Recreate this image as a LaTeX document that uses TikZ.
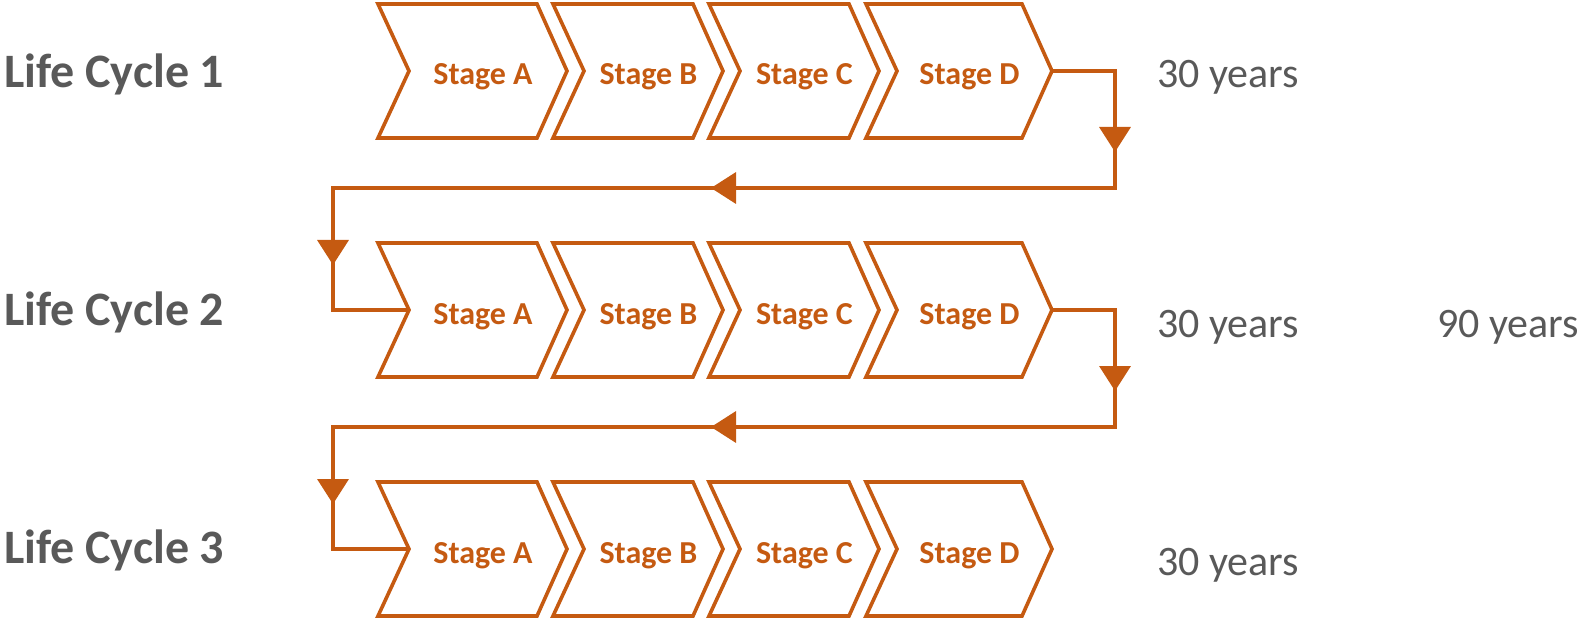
\documentclass[tikz,border=0pt]{standalone}
\usepackage{fontspec}
\setmainfont{Carlito}
\usetikzlibrary{arrows.meta,decorations.markings}
\definecolor{rust}{HTML}{C55A11}
\definecolor{greytxt}{HTML}{595959}
\tikzset{flowtip/.tip={Triangle[width=31pt,length=25pt]}}
\newcommand\mychev[5]{% name, left, right, yc, text
  \draw[chev] (#2,#4-67) -- (#3-30,#4-67) -- (#3,#4) -- (#3-30,#4+67) -- (#2,#4+67) -- (#2+31,#4) -- cycle;
  \coordinate (#1-notch) at (#2+31,#4);
  \coordinate (#1-tip) at (#3,#4);
  \node[stagetext] (#1) at ({(#2+31+#3)/2-5},#4+14) {#5};
}
\begin{document}
\begin{tikzpicture}[x=1pt,y=-1pt,line join=miter,
  chev/.style={draw=rust,line width=3.6pt,fill=white},
  stagetext/.style={text=rust,font=\fontsize{32}{38}\selectfont\bfseries,anchor=base,inner sep=0pt},
  cyclelabel/.style={text=greytxt,font=\fontsize{48}{58}\selectfont\bfseries,anchor=base west,inner sep=0pt},
  yearlabel/.style={text=greytxt,font=\fontsize{42}{50}\selectfont,anchor=base west,inner sep=0pt},
  flow/.style={draw=rust,line width=3.6pt,postaction=decorate,
    decoration={markings,
      mark=at position 144pt with {\arrow{flowtip}},
      mark=at position 584pt with {\arrow{flowtip}},
      mark=at position 1039pt with {\arrow{flowtip}}}},
]
\useasboundingbox (0,0) rectangle (1581,620);
\foreach \r/\y in {1/71,2/310,3/549}{
  \mychev{A\r}{378}{567}{\y}{Stage A}
  \mychev{B\r}{553}{723}{\y}{Stage B}
  \mychev{C\r}{709}{879}{\y}{Stage C}
  \mychev{D\r}{866}{1052}{\y}{Stage D}
}
\node[cyclelabel] (L1) at (4,88) {Life Cycle 1};
\node[cyclelabel] (L2) at (4,325) {Life Cycle 2};
\node[cyclelabel] (L3) at (4,563) {Life Cycle 3};
\node[yearlabel] (Y1) at (1157,88) {30 years};
\node[yearlabel] (Y2) at (1157,337) {30 years};
\node[yearlabel] (Y3) at (1157,575) {30 years};
\node[yearlabel] (Y4) at (1437,337) {90 years};
\coordinate (r1) at (1115,188);
\coordinate (l1) at (333,188);
\coordinate (r2) at (1115,427);
\coordinate (l2) at (333,427);
\draw[flow] (D1-tip) -| (r1) -- (l1) |- (A2-notch);
\draw[flow] (D2-tip) -| (r2) -- (l2) |- (A3-notch);
\end{tikzpicture}
\end{document}
